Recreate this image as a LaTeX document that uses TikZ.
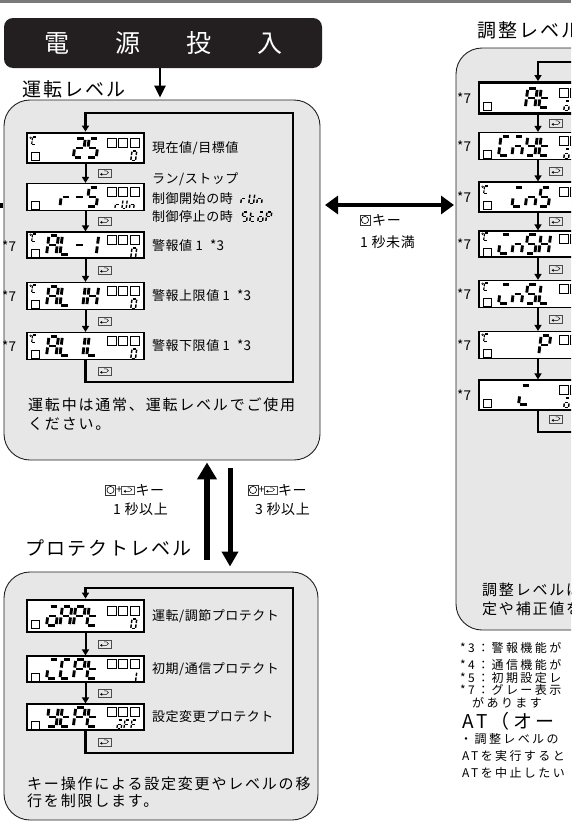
\documentclass[tikz,border=0pt]{standalone}
\usepackage{fontspec}
\setmainfont{Noto Sans CJK JP}
\usetikzlibrary{arrows.meta}
\definecolor{boxgray}{HTML}{E7E7E7}
\definecolor{ink}{HTML}{231F20}
\definecolor{topbar}{HTML}{7A7A7A}
\def\sga{(1.5,0)--(8,0)}
\def\sgb{(9.5,1.4)--(9.5,8.1)}
\def\sgc{(9.5,10.9)--(9.5,17.6)}
\def\sgd{(1.5,19)--(8,19)}
\def\sge{(0,10.9)--(0,17.6)}
\def\sgf{(0,1.4)--(0,8.1)}
\def\sgg{(1.5,9.5)--(8,9.5)}
\def\segdraw(#1)--(#2)\relax{\draw[line width=\seglw pt] (#1)--(#2);}
\newcommand\sevs[4][1]{%
  \begin{scope}[shift={(#2,#3)},scale=#1,xslant=0.13]
    \pgfmathsetmacro\seglw{2.9*#1}%
    \foreach \sgx in {#4}{\expandafter\expandafter\expandafter\segdraw\csname sg\sgx\endcsname\relax}%
  \end{scope}}
\newcommand\dslot[4]{%
  \pgfmathsetmacro\slx{#1+8.6+13.4*#3}%
  \pgfmathsetmacro\sly{#2-9.5}%
  \sevs{\slx}{\sly}{#4}}
\newcommand\topsq[2]{\foreach \oo in {80,91.5,103}{\draw[line width=0.7pt] (#1+\oo,#2-10) rectangle ++(9,9);}}
\newcommand\blsq[2]{\draw[line width=0.7pt] (#1+4.5,#2+4) rectangle ++(8,8);}
\newcommand\degc[2]{\draw[line width=0.45pt] (#1+3.6,#2-10.2) circle (0.9);\sevs[0.4]{#1+5.6}{#2-11}{a,f,e,d}}
\newcommand\ekey[3]{%
  \node[ekeyb] (#1) at (#2,#3) {};
  \draw[line width=0.45pt] (#2-3.6,#3+1.3) -- (#2+2,#3+1.3) .. controls (#2+4.6,#3+1.3) and (#2+4.6,#3-2.1) .. (#2+2,#3-2.1) -- (#2-0.5,#3-2.1);
  \fill (#2-4.4,#3+1.3) -- (#2-2.4,#3-0.2) -- (#2-2.4,#3+2.8) -- cycle;}
\newcommand\okeyic[3]{%
  \node[okey] (#1) at (#2,#3) {};
  \draw[line width=0.6pt] (#1) circle (3.6);}
\begin{document}
\begin{tikzpicture}[x=1pt,y=-1pt,
  bigbox/.style={draw=ink, line width=0.9pt, fill=boxgray, rounded corners=26pt, inner sep=0},
  disp/.style={draw=black, fill=white, line width=1.2pt, inner sep=0, minimum width=117pt},
  dispt/.style={disp, line width=2.8pt},
  adisp/.style={disp, minimum width=140pt},
  adispt/.style={adisp, line width=2.8pt},
  darr/.style={line width=2pt, -{Triangle[length=6pt,width=7pt]}},
  looparr/.style={line width=2.6pt, -{Triangle[length=6pt,width=7pt]}},
  loopl/.style={line width=2.6pt},
  ekeyb/.style={draw=black!70, line width=0.5pt, inner sep=0, minimum width=13pt, minimum height=8pt},
  okey/.style={draw=black!80, line width=0.6pt, inner sep=0, minimum width=10pt, minimum height=10pt},
  lab/.style={anchor=west, inner sep=0, font=\fontsize{13}{15}\selectfont\addfontfeatures{LetterSpace=4}},
  keylab/.style={anchor=west, inner sep=0, font=\fontsize{14}{16}\selectfont\addfontfeatures{LetterSpace=4}},
  plus/.style={anchor=west, inner sep=0, font=\fontsize{11}{13}\selectfont},
  ttl/.style={anchor=west, inner sep=0, font=\fontsize{19}{21}\selectfont\addfontfeatures{LetterSpace=11}},
  bodytxt/.style={anchor=west, inner sep=0, font=\fontsize{15}{18}\selectfont\addfontfeatures{LetterSpace=12}},
  foot/.style={anchor=west, inner sep=0, font=\fontsize{12}{14}\selectfont\addfontfeatures{LetterSpace=20}},
  starlab/.style={anchor=west, inner sep=0, font=\fontsize{13.5}{15}\selectfont}]
\useasboundingbox (0,0) rectangle (571,827);
\clip (0,0) rectangle (571,827);
\fill[topbar] (0,0) rectangle (571,3);

% power on
\node[fill=ink, rounded corners=9pt, minimum width=318pt, minimum height=50pt, inner sep=0, text=white, font=\fontsize{25}{27}\selectfont] (power) at (163,43) {電\hspace{46pt}源\hspace{46pt}投\hspace{46pt}入};

% ===== running level =====
\node[bigbox, minimum width=316pt, minimum height=360pt] (run) at (162,280) {};
\node[ttl] (runt) at (22,89) {運転レベル};
\draw[line width=2.8pt, -{Triangle[length=12pt,width=11pt]}, shorten >=2pt] (power.south -| 160,0) -- (run.north -| 160,0);

\node[dispt, minimum height=30pt] (r1) at (85.5,148) {};
\node[disp, minimum height=27pt] (r2) at (85.5,197) {};
\node[disp, minimum height=26pt] (r3) at (85.5,245) {};
\node[disp, minimum height=27pt] (r4) at (85.5,296) {};
\node[disp, minimum height=27pt] (r5) at (85.5,346) {};

\degc{27}{148}\blsq{27}{148}\topsq{27}{148}
\dslot{27}{148}{3}{a,b,g,e,d}\dslot{27}{148}{4}{a,f,g,c,d}
\sevs[0.5]{132}{151}{a,b,c,d,e,f}

\blsq{27}{197}\topsq{27}{197}
\dslot{27}{197}{2}{e,g}\dslot{27}{197}{3}{g}\dslot{27}{197}{4}{a,f,g,c,d}
\sevs[0.45]{116}{200}{e,g}\sevs[0.45]{123}{200}{b,c,d,e,f}\sevs[0.45]{130.5}{200}{c,e,g}

\degc{27}{245}\blsq{27}{245}\topsq{27}{245}
\dslot{27}{245}{1}{a,b,c,e,f,g}\dslot{27}{245}{2}{f,e,d}\dslot{27}{245}{3}{g}\dslot{27}{245}{4}{b,c}
\sevs[0.5]{132}{248}{a,b,c,d,e,f}

\degc{27}{296}\blsq{27}{296}\topsq{27}{296}
\dslot{27}{296}{1}{a,b,c,e,f,g}\dslot{27}{296}{2}{f,e,d}\dslot{27}{296}{3}{b,c}\dslot{27}{296}{4}{b,c,e,f,g}
\sevs[0.5]{132}{299}{a,b,c,d,e,f}

\degc{27}{346}\blsq{27}{346}\topsq{27}{346}
\dslot{27}{346}{1}{a,b,c,e,f,g}\dslot{27}{346}{2}{f,e,d}\dslot{27}{346}{3}{b,c}\dslot{27}{346}{4}{f,e,d}
\sevs[0.5]{132}{349}{a,b,c,d,e,f}

\draw[darr] (r1.south) -- (r2.north);
\draw[darr] (r2.south) -- (r3.north);
\draw[darr] (r3.south) -- (r4.north);
\draw[darr] (r4.south) -- (r5.north);
\coordinate (rbl) at (85.5,382);
\coordinate (rtr) at (293,113);
\draw[looparr] (r5.south) -- (rbl) -| (rtr) -| (r1.north);
\ekey{k1}{104.5}{173}\ekey{k2}{104.5}{221}\ekey{k3}{104.5}{270}\ekey{k4}{104.5}{321}\ekey{k5}{104.5}{371}

\node[lab] (l1) at (152,148) {現在値/目標値};
\node[lab] (l2) at (152,179) {ラン/ストップ};
\node[lab] (l3) at (152,199) {制御開始の時};
\node[lab] (l4) at (152,217) {制御停止の時};
\sevs[0.5]{242}{194}{e,g}\sevs[0.5]{250}{194}{b,c,d,e,f}\sevs[0.5]{258}{194}{c,e,g}
\sevs[0.5]{243}{212}{a,f,g,c,d}\sevs[0.5]{251}{212}{f,e,d,g}\sevs[0.5]{259}{212}{a,c,d,e,g}\sevs[0.5]{267}{212}{a,b,f,g,e}
\node[lab] (l5) at (152,246) {警報値 1};
\node[lab] (l6) at (152,296) {警報上限値 1};
\node[lab] (l7) at (152,346) {警報下限値 1};
\node[starlab] (s1) at (210,245) {*3};
\node[starlab] (s2) at (237,295) {*3};
\node[starlab] (s3) at (237,345) {*3};
\node[starlab] (n1) at (2,246) {*7};
\node[starlab] (n2) at (2,296) {*7};
\node[starlab] (n3) at (2,346) {*7};
\node[bodytxt] (rtxt1) at (28,405) {運転中は通常、運転レベルでご使用};
\node[bodytxt] (rtxt2) at (28,424) {ください。};

\fill (0,203) rectangle (3,208);

% ===== adjustment level =====
\node[bigbox, minimum width=260pt, minimum height=582pt] (adj) at (586,339) {};
\node[ttl] (adjt) at (477,30) {調整レベル};
\node[adispt, minimum height=31pt] (a1) at (549,98) {};
\node[adisp, minimum height=27pt] (a2) at (549,146) {};
\node[adisp, minimum height=30pt] (a3) at (549,197) {};
\node[adisp, minimum height=26pt] (a4) at (549,244) {};
\node[adisp, minimum height=27pt] (a5) at (549,294) {};
\node[adisp, minimum height=27pt] (a6) at (549,345) {};
\node[adisp, minimum height=30pt] (a7) at (549,395) {};

\blsq{479}{98}\topsq{479}{98}
\dslot{479}{98}{3}{a,b,c,e,f,g}\dslot{479}{98}{4}{f,e,d,g}
\sevs[0.5]{565}{101}{a,c,d,e,g}
\blsq{479}{146}\topsq{479}{146}
\dslot{479}{146}{1}{a,f,e,d}\dslot{479}{146}{2}{a,c,e,g}\dslot{479}{146}{3}{f,b,g,c,d}\dslot{479}{146}{4}{f,e,d,g}
\sevs[0.5]{565}{149}{a,c,d,e,g}
\degc{479}{197}\blsq{479}{197}\topsq{479}{197}
\dslot{479}{197}{2}{a,e,d}\dslot{479}{197}{3}{c,e,g}\dslot{479}{197}{4}{a,f,g,c,d}
\degc{479}{244}\blsq{479}{244}\topsq{479}{244}
\dslot{479}{244}{1}{a,e,d}\dslot{479}{244}{2}{c,e,g}\dslot{479}{244}{3}{a,f,g,c,d}\dslot{479}{244}{4}{b,c,e,f,g}
\degc{479}{294}\blsq{479}{294}\topsq{479}{294}
\dslot{479}{294}{1}{a,e,d}\dslot{479}{294}{2}{c,e,g}\dslot{479}{294}{3}{a,f,g,c,d}\dslot{479}{294}{4}{f,e,d}
\degc{479}{345}\blsq{479}{345}\topsq{479}{345}
\dslot{479}{345}{4}{a,b,f,g,e}
\blsq{479}{395}\topsq{479}{395}
\sevs{521}{385.5}{a,e,d}
\sevs[0.5]{565}{398}{a,c,d,e,g}

\draw[darr] (a1.south -| 538,0) -- (a2.north -| 538,0);
\draw[darr] (a2.south -| 538,0) -- (a3.north -| 538,0);
\draw[darr] (a3.south -| 538,0) -- (a4.north -| 538,0);
\draw[darr] (a4.south -| 538,0) -- (a5.north -| 538,0);
\draw[darr] (a5.south -| 538,0) -- (a6.north -| 538,0);
\draw[darr] (a6.south -| 538,0) -- (a7.north -| 538,0);
\coordinate (atr) at (600,62);
\coordinate (abr) at (600,432);
\draw[looparr] (atr) -| (a1.north -| 538,0);
\draw[loopl] (a7.south -| 538,0) |- (abr);
\ekey{j1}{556}{123}\ekey{j2}{556}{171}\ekey{j3}{556}{221}\ekey{j4}{556}{269}\ekey{j5}{556}{319}\ekey{j6}{556}{419}
\node[starlab] (m1) at (457,98) {*7};
\node[starlab] (m2) at (457,146) {*7};
\node[starlab] (m3) at (457,197) {*7};
\node[starlab] (m4) at (457,244) {*7};
\node[starlab] (m5) at (457,294) {*7};
\node[starlab] (m6) at (457,345) {*7};
\node[starlab] (m7) at (457,395) {*7};
\node[bodytxt] (atxt1) at (482,590) {調整レベルは};
\node[bodytxt] (atxt2) at (482,609) {定や補正値を};

% double arrow
\coordinate (dl) at (325,205);
\coordinate (dr) at (454,205);
\draw[line width=4.5pt, {Triangle[length=13pt,width=18pt]}-{Triangle[length=13pt,width=18pt]}] (dl) -- (dr);
\okeyic{ok1}{365}{220}
\node[keylab] (ok1t) at (372,220) {キー};
\node[keylab] (sec1) at (360,242) {1 秒未満};

% ===== protect level =====
\node[ttl] (prott) at (25,548) {プロテクトレベル};
\node[bigbox, minimum width=314pt, minimum height=248pt] (prot) at (161,696) {};
\coordinate (ua) at (207,560);
\coordinate (da) at (230,468);
\draw[line width=5.5pt, -{Triangle[length=17pt,width=19pt]}, shorten >=2pt] (ua) -- (run.south -| 207,0);
\draw[line width=5pt, -{Triangle[length=15pt,width=16pt]}, shorten >=5pt] (da) -- (prot.north -| 230,0);
\okeyic{ok2}{110.5}{490}
\node[plus] (pl2) at (115.8,490) {+};
\ekey{ek2}{128}{490}
\node[keylab] (ok2t) at (135.5,490) {キー};
\node[keylab] (sec2) at (113,509) {1 秒以上};
\okeyic{ok3}{253}{490}
\node[plus] (pl3) at (258.3,490) {+};
\ekey{ek3}{270.5}{490}
\node[keylab] (ok3t) at (278,490) {キー};
\node[keylab] (sec3) at (255,509) {3 秒以上};

\node[dispt, minimum height=32pt] (p1) at (85.5,616) {};
\node[disp, minimum height=26pt] (p2) at (85.5,669) {};
\node[disp, minimum height=26pt] (p3) at (85.5,717) {};
\blsq{27}{616}\topsq{27}{616}
\dslot{27}{616}{1}{a,c,d,e,g}\dslot{27}{616}{2}{a,b,c,e,f,g}\dslot{27}{616}{3}{a,b,f,g,e}\dslot{27}{616}{4}{f,e,d,g}
\sevs[0.5]{132}{619}{a,b,c,d,e,f}
\blsq{27}{669}\topsq{27}{669}
\dslot{27}{669}{1}{a,e,d}\dslot{27}{669}{2}{a,f,e,d}\dslot{27}{669}{3}{a,b,f,g,e}\dslot{27}{669}{4}{f,e,d,g}
\sevs[0.5]{132}{672}{b,c}
\blsq{27}{717}\topsq{27}{717}
\dslot{27}{717}{1}{f,b,g,c,d}\dslot{27}{717}{2}{f,e,d,g}\dslot{27}{717}{3}{a,b,f,g,e}\dslot{27}{717}{4}{f,e,d,g}
\sevs[0.45]{118}{720}{a,c,d,e,g}\sevs[0.45]{125}{720}{a,f,g,e}\sevs[0.45]{132}{720}{a,f,g,e}
\draw[darr] (p1.south) -- (p2.north);
\draw[darr] (p2.south) -- (p3.north);
\coordinate (pbl) at (85.5,753);
\coordinate (ptr) at (293,588);
\draw[looparr] (p3.south) -- (pbl) -| (ptr) -| (p1.north);
\ekey{q1}{104.5}{644}\ekey{q2}{104.5}{693}\ekey{q3}{104.5}{742}
\node[lab] (pl1) at (152,616) {運転/調節プロテクト};
\node[lab] (pl2b) at (152,669) {初期/通信プロテクト};
\node[lab] (pl3b) at (152,717) {設定変更プロテクト};
\node[bodytxt] (ptxt1) at (27,784) {キー操作による設定変更やレベルの移};
\node[bodytxt] (ptxt2) at (27,801) {行を制限します。};

% ===== footnotes =====
\node[foot] (f3) at (460,648) {*3：警報機能が};
\node[foot] (f4) at (460,665) {*4：通信機能が};
\node[foot] (f5) at (460,677.5) {*5：初期設定レ};
\node[foot] (f7) at (460,690) {*7：グレー表示};
\node[foot] (f7b) at (472,702.5) {があります};
\node[anchor=west, inner sep=0, font=\fontsize{19}{21}\selectfont\addfontfeatures{LetterSpace=18}] (athead) at (462,721) {AT（オー};
\node[foot] (b1) at (460,739) {・調整レベルの};
\node[foot] (b2) at (462,756) {ATを実行すると};
\node[foot] (b3) at (462,773) {ATを中止したい};
\end{tikzpicture}
\end{document}
